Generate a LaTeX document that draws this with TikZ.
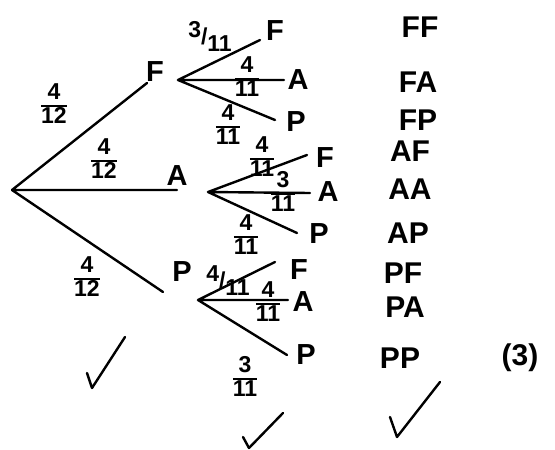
\documentclass[tikz,border=0pt]{standalone}
\usepackage{fontspec}
\setmainfont{Liberation Sans}
\setlength\arrayrulewidth{2pt}
\newcommand\fr[2]{\begin{tabular}{@{}c@{}}#1\\[-2pt]\hline\noalign{\vskip1pt}#2\end{tabular}}
\newcommand\sfr[2]{\raisebox{7pt}{#1}/\raisebox{-7pt}{#2}}
\begin{document}
\begin{tikzpicture}[x=1pt,y=-1pt,line width=2.4pt,line cap=round,line join=round,
	lbl/.style={font=\fontsize{29}{29}\selectfont\bfseries,inner sep=0pt},
	outc/.style={font=\fontsize{30}{30}\selectfont\bfseries,inner sep=0pt},
	prob/.style={font=\fontsize{23}{23}\selectfont\bfseries,inner sep=0pt}]
	\useasboundingbox (0,0) rectangle (555,450);
	\coordinate (O) at (12,190);
	% first pick
	\node[lbl] (F) at (155,72) {F};
	\node[lbl] (A) at (177,176) {A};
	\node[lbl] (P) at (182,272) {P};
	\coordinate (F0) at (147,83); \coordinate (A0) at (177,190); \coordinate (P0) at (163,292);
	\draw (O)--(F0) (O)--(A0) (O)--(P0);
	\node[prob] (pF) at (54,107) {\fr{4}{12}};
	\node[prob] (pA) at (104,162) {\fr{4}{12}};
	\node[prob] (pP) at (87,280) {\fr{4}{12}};
	% second pick after F
	\coordinate (F1) at (178,80);
	\node[lbl] (FF) at (275,31) {F};
	\node[lbl] (FA) at (298,80) {A};
	\node[lbl] (FP) at (296,122) {P};
	\coordinate (FFe) at (260,40); \coordinate (FAe) at (284,80); \coordinate (FPe) at (275,120);
	\draw (F1)--(FFe) (F1)--(FAe) (F1)--(FPe);
	\node[prob] (pFF) at (210,36) {\sfr{3}{11}};
	\node[prob] (pFA) at (247,80) {\fr{4}{11}};
	\node[prob] (pFP) at (228,128) {\fr{4}{11}};
	% second pick after A
	\coordinate (A1) at (208,192);
	\node[lbl] (AF) at (325,158) {F};
	\node[lbl] (AA) at (328,192) {A};
	\node[lbl] (AP) at (319,234) {P};
	\coordinate (AFe) at (307,155); \coordinate (AAe) at (310,193); \coordinate (APe) at (297,233);
	\draw (A1)--(AFe) (A1)--(AAe) (A1)--(APe);
	\node[prob] (pAF) at (262,160) {\fr{4}{11}};
	\node[prob] (pAA) at (283,195) {\fr{3}{11}};
	\node[prob] (pAP) at (246,238) {\fr{4}{11}};
	% second pick after P
	\coordinate (P1) at (198,300);
	\node[lbl] (PF) at (299,270) {F};
	\node[lbl] (PA) at (303,302) {A};
	\node[lbl] (PP) at (306,355) {P};
	\coordinate (PFe) at (275,262); \coordinate (PAe) at (288,300); \coordinate (PPe) at (287,355);
	\draw (P1)--(PFe) (P1)--(PAe) (P1)--(PPe);
	\node[prob] (pPF) at (228,281) {\sfr{4}{11}};
	\node[prob] (pPA) at (268,305) {\fr{4}{11}};
	\node[prob] (pPP) at (245,380) {\fr{3}{11}};
	% outcomes
	\foreach \t/\x/\y in {FF/420/27,FA/418/82,FP/418/120,AF/410/151,AA/410/189,AP/408/233,PF/403/273,PA/405/307,PP/400/358}
		\node[outc] (o\t) at (\x,\y) {\t};
	\node[outc] (mk) at (520,358) {(3)};
	\draw (87,373)--(92,388)--(125,337);
	\draw (243,437)--(249,448)--(283,413);
	\draw (390,417)--(397,437)--(440,382);
\end{tikzpicture}
\end{document}
